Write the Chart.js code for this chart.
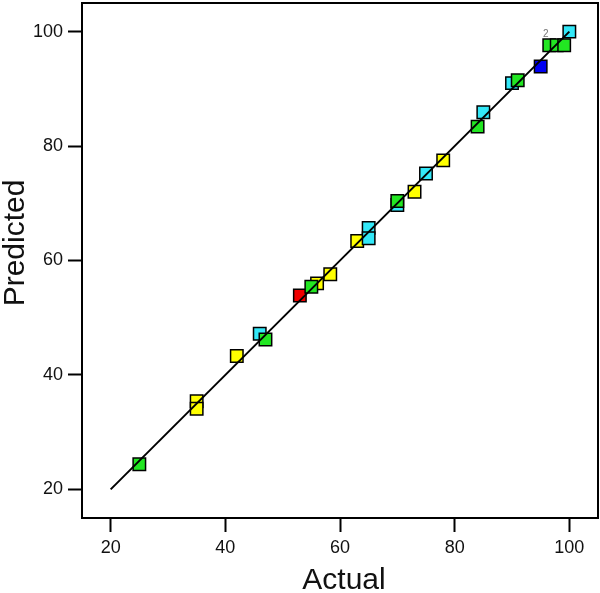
<!DOCTYPE html>
<html>
<head>
<meta charset="utf-8">
<script src="https://cdn.jsdelivr.net/npm/chart.js@4"></script>
<style>
  html, body { margin: 0; padding: 0; background: #fff; }
  #wrap { width: 600px; height: 593px; }
</style>
</head>
<body>
<div id="wrap"><canvas id="myChart" width="600" height="593"></canvas></div>
<script>
// actual vs predicted values
const actual    = [25, 35, 35, 42, 46, 47, 53, 56, 55, 58.3, 63, 65, 65, 70, 70, 73, 75, 78, 84, 85, 90, 91, 95, 96.5, 97.8, 99.1, 100];
const predicted = [24.4, 35.4, 34.1, 43.3, 47.2, 46.2, 53.9, 56.0, 55.4, 57.6, 63.4, 65.7, 63.9, 69.7, 70.4, 72.0, 75.2, 77.5, 83.4, 85.9, 91.0, 91.5, 93.9, 97.6, 97.6, 97.6, 100];
const colorKey  = ['g', 'y', 'y', 'y', 'c', 'g', 'r', 'y', 'g', 'y', 'y', 'c', 'c', 'c', 'g', 'y', 'c', 'y', 'g', 'c', 'c', 'g', 'b', 'g', 'g', 'g', 'c'];
const fitLine   = [20, 100];
const tickValues = [20, 40, 60, 80, 100];

const palette = { y: '#ffff00', c: '#33e8f8', g: '#22e622', b: '#0000f0', r: '#f00000' };
const fontFamily = '"Liberation Sans", Arial, sans-serif';

const points = actual.map((a, i) => ({ x: a, y: predicted[i] }));
const colors = colorKey.map((k) => palette[k]);

// frame around the plot + axis titles + the little overlap label
const framePlugin = {
  id: 'frame',
  afterDraw(chart) {
    const { ctx, chartArea: a, scales } = chart;
    ctx.save();
    ctx.strokeStyle = '#000';
    ctx.lineWidth = 2;
    ctx.strokeRect(a.left, a.top, a.right - a.left, a.bottom - a.top);

    ctx.fillStyle = '#111';
    ctx.font = '30px ' + fontFamily;
    ctx.textAlign = 'center';
    ctx.textBaseline = 'alphabetic';
    ctx.fillText('Actual', 344, 589);

    ctx.translate(24, 243);
    ctx.rotate(-Math.PI / 2);
    ctx.fillText('Predicted', 0, 0);
    ctx.restore();

    ctx.save();
    ctx.fillStyle = '#777';
    ctx.font = '10px ' + fontFamily;
    ctx.textAlign = 'center';
    ctx.textBaseline = 'middle';
    ctx.fillText('2', scales.x.getPixelForValue(95.9), scales.y.getPixelForValue(99.6));
    ctx.restore();
  }
};

const axisOpts = (size) => ({
  type: 'linear',
  min: 15,
  max: 105,
  afterBuildTicks: (scale) => {
    scale.ticks = tickValues.map((v) => ({ value: v }));
  },
  afterFit: (s) => {
    size(s);
    s.paddingTop = 0;
    s.paddingBottom = 0;
    s.paddingLeft = 0;
    s.paddingRight = 0;
  },
  border: { display: false },
  grid: {
    drawOnChartArea: false,
    drawTicks: true,
    tickLength: 14,
    tickColor: '#000',
    tickWidth: 2,
  },
  ticks: {
    color: '#111',
    padding: 5,
    font: { family: fontFamily, size: 18 },
  },
});

const ctx = document.getElementById('myChart').getContext('2d');
const myChart = new Chart(ctx, {
  data: {
    datasets: [
      {
        type: 'line',
        data: fitLine.map((v) => ({ x: v, y: v })),
        borderColor: '#000',
        borderWidth: 2,
        pointRadius: 0,
        order: 0,
      },
      {
        type: 'scatter',
        data: points,
        pointStyle: 'rect',
        pointRadius: 8.8,
        pointHoverRadius: 8.8,
        backgroundColor: colors,
        borderColor: '#000',
        borderWidth: 1.5,
        order: 1,
      },
    ],
  },
  options: {
    responsive: false,
    animation: false,
    devicePixelRatio: 1,
    layout: { autoPadding: false, padding: { top: 3, right: 2, left: 0, bottom: 0 } },
    plugins: { legend: { display: false }, tooltip: { enabled: false } },
    scales: {
      x: axisOpts((s) => { s.height = 75; }),
      y: axisOpts((s) => { s.width = 82; }),
    },
  },
  plugins: [framePlugin],
});
</script>
</body>
</html>
